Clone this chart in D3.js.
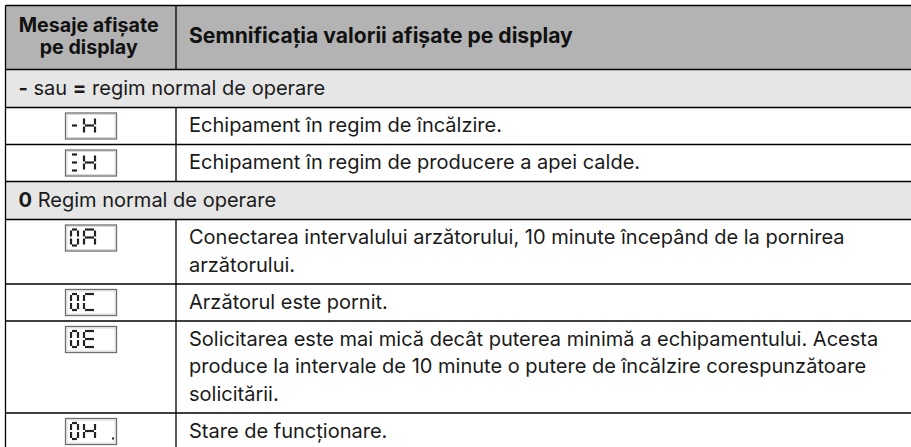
<!DOCTYPE html>
<html><head><meta charset="utf-8">
<script src="https://cdn.jsdelivr.net/npm/d3@7"></script>
<style>
html,body{margin:0;padding:0;background:#fff;}
svg{display:block;}
text{font-family:Inter,"Liberation Sans",Arial,sans-serif;}
</style></head>
<body>
<svg id="chart" width="911" height="447"></svg>
<script>
// ---- data ----
const headerLeft = ["Mesaje afișate", "pe display"];
const headerRight = "Semnificația valorii afișate pe display";
const sectionTitles = [
  [["-", true], [" sau ", false], ["=", true], [" regim normal de operare", false]],
  [["0", true], [" Regim normal de operare", false]]
];
const displayCodes = ["-H", "=H", "0A", "0C", "0E", "0H."];
const rowSection = [0, 0, 1, 1, 1, 1];
const descriptions = [
  ["Echipament în regim de încălzire."],
  ["Echipament în regim de producere a apei calde."],
  ["Conectarea intervalului arzătorului, 10 minute începând de la pornirea", "arzătorului."],
  ["Arzătorul este pornit."],
  ["Solicitarea este mai mică decât puterea minimă a echipamentului. Acesta",
   "produce la intervale de 10 minute o putere de încălzire corespunzătoare",
   "solicitării."],
  ["Stare de funcționare."]
];
const segMap = {"-":"g","=":"agd","H":"bcefg","0":"abcdef","A":"abcefg","C":"adef","E":"adefg"};

// ---- layout ----
const svg = d3.select("#chart");
const X0 = 5.5, X1 = 176, XR = 911, Y0 = 5.5, HEADER_H = 64;
const LINE_H = 27.5, PAD_H = 9.5, SECTION_H = 38;

function fitSize(str, weight, target) {
  const t = svg.append("text").attr("font-size", 20).attr("font-weight", weight).text(str);
  const w = t.node().getComputedTextLength();
  t.remove();
  return 20 * target / w;
}
const FS = fitSize(descriptions[4][0], "normal", 690);
const FSB = fitSize(headerRight, "bold", 384);
const FSL = Math.min(FSB, fitSize(headerLeft[0], "bold", 140));

const rows = [];
let lastSec = -1;
displayCodes.forEach((code, i) => {
  if (rowSection[i] !== lastSec) {
    rows.push({type: "section", sec: rowSection[i], h: SECTION_H});
    lastSec = rowSection[i];
  }
  rows.push({type: "data", code, lines: descriptions[i], h: PAD_H + LINE_H * descriptions[i].length});
});
let yAcc = Y0 + HEADER_H;
rows.forEach(r => { r.y = yAcc; yAcc += r.h; });

const g = svg.append("g");

g.append("rect").attr("x", X0).attr("y", Y0).attr("width", XR - X0).attr("height", HEADER_H).attr("fill", "#b3b3b3");
g.selectAll("rect.sec").data(rows.filter(r => r.type === "section")).join("rect")
  .attr("class", "sec").attr("x", X0).attr("y", d => d.y).attr("width", XR - X0).attr("height", d => d.h)
  .attr("fill", "#e6e6e6");

const colC = (X0 + X1) / 2;
g.selectAll("text.hl").data(headerLeft).join("text").attr("class", "hl")
  .attr("x", colC - 2).attr("y", (d, i) => Y0 + 26.5 + i * 22).attr("text-anchor", "middle")
  .attr("font-size", FSL).attr("font-weight", "bold").attr("fill", "#111").text(d => d);
g.append("text").attr("x", X1 + 13).attr("y", Y0 + 37.5)
  .attr("font-size", FSB).attr("font-weight", "bold").attr("fill", "#111").text(headerRight);

g.selectAll("text.sec").data(rows.filter(r => r.type === "section")).join("text")
  .attr("class", "sec").attr("x", X0 + 13).attr("y", d => d.y + 25.5)
  .attr("font-size", FS).attr("fill", "#1a1a1a")
  .style("white-space", "pre")
  .selectAll("tspan").data(d => sectionTitles[d.sec]).join("tspan")
  .attr("font-weight", d => d[1] ? "bold" : "normal").text(d => d[0]);

const dataRows = rows.filter(r => r.type === "data");
const dt = g.selectAll("g.row").data(dataRows).join("g").attr("class", "row");
dt.append("text").attr("x", X1 + 13).attr("y", d => d.y + 24.5)
  .attr("font-size", FS).attr("fill", "#1a1a1a")
  .selectAll("tspan").data(d => d.lines).join("tspan")
  .attr("x", X1 + 13).attr("dy", (d, i) => i ? LINE_H : 0).text(d => d);

// display boxes
const BW = 51, BH = 26;
const box = dt.append("g").attr("transform", d => `translate(${Math.round(colC - BW / 2 - 0.5)},${d.y + 5})`);
box.append("rect").attr("x", 0.5).attr("y", 0.5).attr("width", BW).attr("height", BH)
  .attr("fill", "#fff").attr("stroke", "#6e6e6e").attr("stroke-width", 1.3);
box.append("rect").attr("x", 2).attr("y", 2).attr("width", BW - 3).attr("height", BH - 3)
  .attr("fill", "none").attr("stroke", "#d0d0d0").attr("stroke-width", 0.8);

const cells = [{x: 6, w: 7}, {x: 19, w: 11}];
const DY = 5, DH = 16, gap = 1;
function segLines(c, s) {
  const x = c.x, w = c.w, y = DY, h = DH, m = y + h / 2;
  switch (s) {
    case "a": return [x + gap, y, x + w - gap, y];
    case "b": return [x + w, y + gap, x + w, m - gap];
    case "c": return [x + w, m + gap, x + w, y + h - gap];
    case "d": return [x + gap, y + h, x + w - gap, y + h];
    case "e": return [x, m + gap, x, y + h - gap];
    case "f": return [x, y + gap, x, m - gap];
    case "g": return [x + gap, m, x + w - gap, m];
  }
}
box.each(function(d) {
  const sel = d3.select(this);
  const chars = d.code.replace(".", "").split("");
  chars.forEach((ch, ci) => {
    const segs = (segMap[ch] || "").split("");
    sel.selectAll(null).data(segs).join("line")
      .attr("x1", s => segLines(cells[ci], s)[0]).attr("y1", s => segLines(cells[ci], s)[1])
      .attr("x2", s => segLines(cells[ci], s)[2]).attr("y2", s => segLines(cells[ci], s)[3])
      .attr("stroke", "#222").attr("stroke-width", 2.2).attr("stroke-linecap", "butt");
  });
  if (d.code.includes(".")) {
    sel.append("rect").attr("x", 47).attr("y", 19.5).attr("width", 2).attr("height", 2).attr("fill", "#222");
  }
});

// grid lines
const hY = [Y0, Y0 + HEADER_H].concat(rows.map(r => r.y + r.h));
g.selectAll("line.h").data(hY).join("line").attr("class", "h")
  .attr("x1", X0).attr("x2", XR).attr("y1", d => d).attr("y2", d => d)
  .attr("stroke", "#000").attr("stroke-width", 1.3);
g.append("line").attr("x1", X0).attr("x2", X0).attr("y1", Y0).attr("y2", yAcc)
  .attr("stroke", "#000").attr("stroke-width", 1.3);
const vSpans = [[Y0, Y0 + HEADER_H]].concat(dataRows.map(r => [r.y, r.y + r.h]));
g.selectAll("line.v").data(vSpans).join("line").attr("class", "v")
  .attr("x1", X1).attr("x2", X1).attr("y1", d => d[0]).attr("y2", d => d[1])
  .attr("stroke", "#000").attr("stroke-width", 1.3);
</script>
</body></html>
